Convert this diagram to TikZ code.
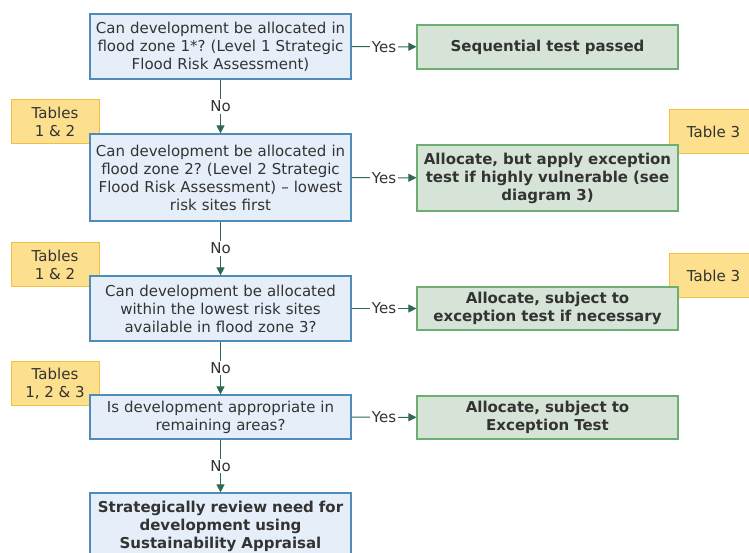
\documentclass[tikz,border=0pt]{standalone}
\usepackage{fontspec}
\setmainfont{DejaVu Sans}
\usetikzlibrary{positioning,arrows.meta}
\frenchspacing

\definecolor{qfill}{HTML}{E6EFF9}
\definecolor{qline}{HTML}{4F8DB8}
\definecolor{afill}{HTML}{D5E4D6}
\definecolor{aline}{HTML}{6FAE72}
\definecolor{tfill}{HTML}{FDE08E}
\definecolor{tline}{HTML}{F2BE45}
\definecolor{linkc}{HTML}{2D6A4F}
\definecolor{txt}{HTML}{333333}

\tikzset{
box/.style={draw, line width=1.2pt, minimum width=261pt, text width=259pt,
    align=center, inner sep=0pt, font=\fontsize{15}{18}\selectfont, text=txt},
question/.style={box, fill=qfill, draw=qline},
answer/.style={box, fill=afill, draw=aline, font=\fontsize{15}{18}\selectfont\bfseries},
tablenote/.style={draw=tline, fill=tfill, line width=1pt, minimum width=88pt,
    minimum height=44pt, align=center, inner sep=0pt,
    font=\fontsize{15}{18}\selectfont, text=txt},
link/.style={draw=linkc, line width=1pt, -{Triangle[length=8pt,width=8pt]}},
lbl/.style={fill=white, inner sep=1.5pt, font=\fontsize{15}{16}\selectfont, text=txt}
}

\begin{document}
\begin{tikzpicture}[x=1pt, y=1pt]
\clip (0,0) rectangle (749,553);
\fill[white] (0,0) rectangle (749,553);

% table notes (behind the boxes)
\node[tablenote] (tab1) at (55,431) {Tables\\1 \& 2};
\node[tablenote] (tab2) at (55,288) {Tables\\1 \& 2};
\node[tablenote] (tab3) at (55,169) {Tables\\1, 2 \& 3};
\node[tablenote, minimum width=89pt] (tab4) at (713.5,421) {Table 3};
\node[tablenote, minimum width=89pt] (tab5) at (713.5,277.5) {Table 3};

% questions
\node[question, minimum height=65pt] (zone1) at (220.5,506.5)
    {Can development be allocated in\\flood zone 1*? (Level 1 Strategic\\Flood Risk Assessment)};
\node[question, minimum height=87pt] (zone2) at (220.5,375.5)
    {Can development be allocated in\\flood zone 2? (Level 2 Strategic\\Flood Risk Assessment) -- lowest\\risk sites first};
\node[question, minimum height=65pt] (zone3) at (220.5,244.5)
    {Can development be allocated\\within the lowest risk sites\\available in flood zone 3?};
\node[question, minimum height=44pt] (remain) at (220.5,136)
    {Is development appropriate in\\remaining areas?};
\node[question, minimum height=66pt, font=\fontsize{15}{18}\selectfont\bfseries] (review) at (220.5,27)
    {Strategically review need for\\development using\\Sustainability Appraisal};

% outcomes
\node[answer, minimum height=44pt] (passed) at (547.5,506)
    {Sequential test passed};
\node[answer, minimum height=66pt] (alloc2) at (547.5,375)
    {Allocate, but apply exception\\test if highly vulnerable (see\\diagram 3)};
\node[answer, minimum height=43pt] (alloc3) at (547.5,244.5)
    {Allocate, subject to\\exception test if necessary};
\node[answer, minimum height=43pt] (alloc4) at (547.5,135.5)
    {Allocate, subject to\\Exception Test};

% connectors
\draw[link] (zone1) -- node[lbl] {Yes} (passed);
\draw[link] (zone2) -- node[lbl] {Yes} (alloc2);
\draw[link] (zone3) -- node[lbl] {Yes} (alloc3);
\draw[link] (remain) -- node[lbl] {Yes} (alloc4);
\draw[link] (zone1) -- node[lbl] {No} (zone2);
\draw[link] (zone2) -- node[lbl] {No} (zone3);
\draw[link] (zone3) -- node[lbl] {No} (remain);
\draw[link] (remain) -- node[lbl] {No} (review);
\end{tikzpicture}
\end{document}
